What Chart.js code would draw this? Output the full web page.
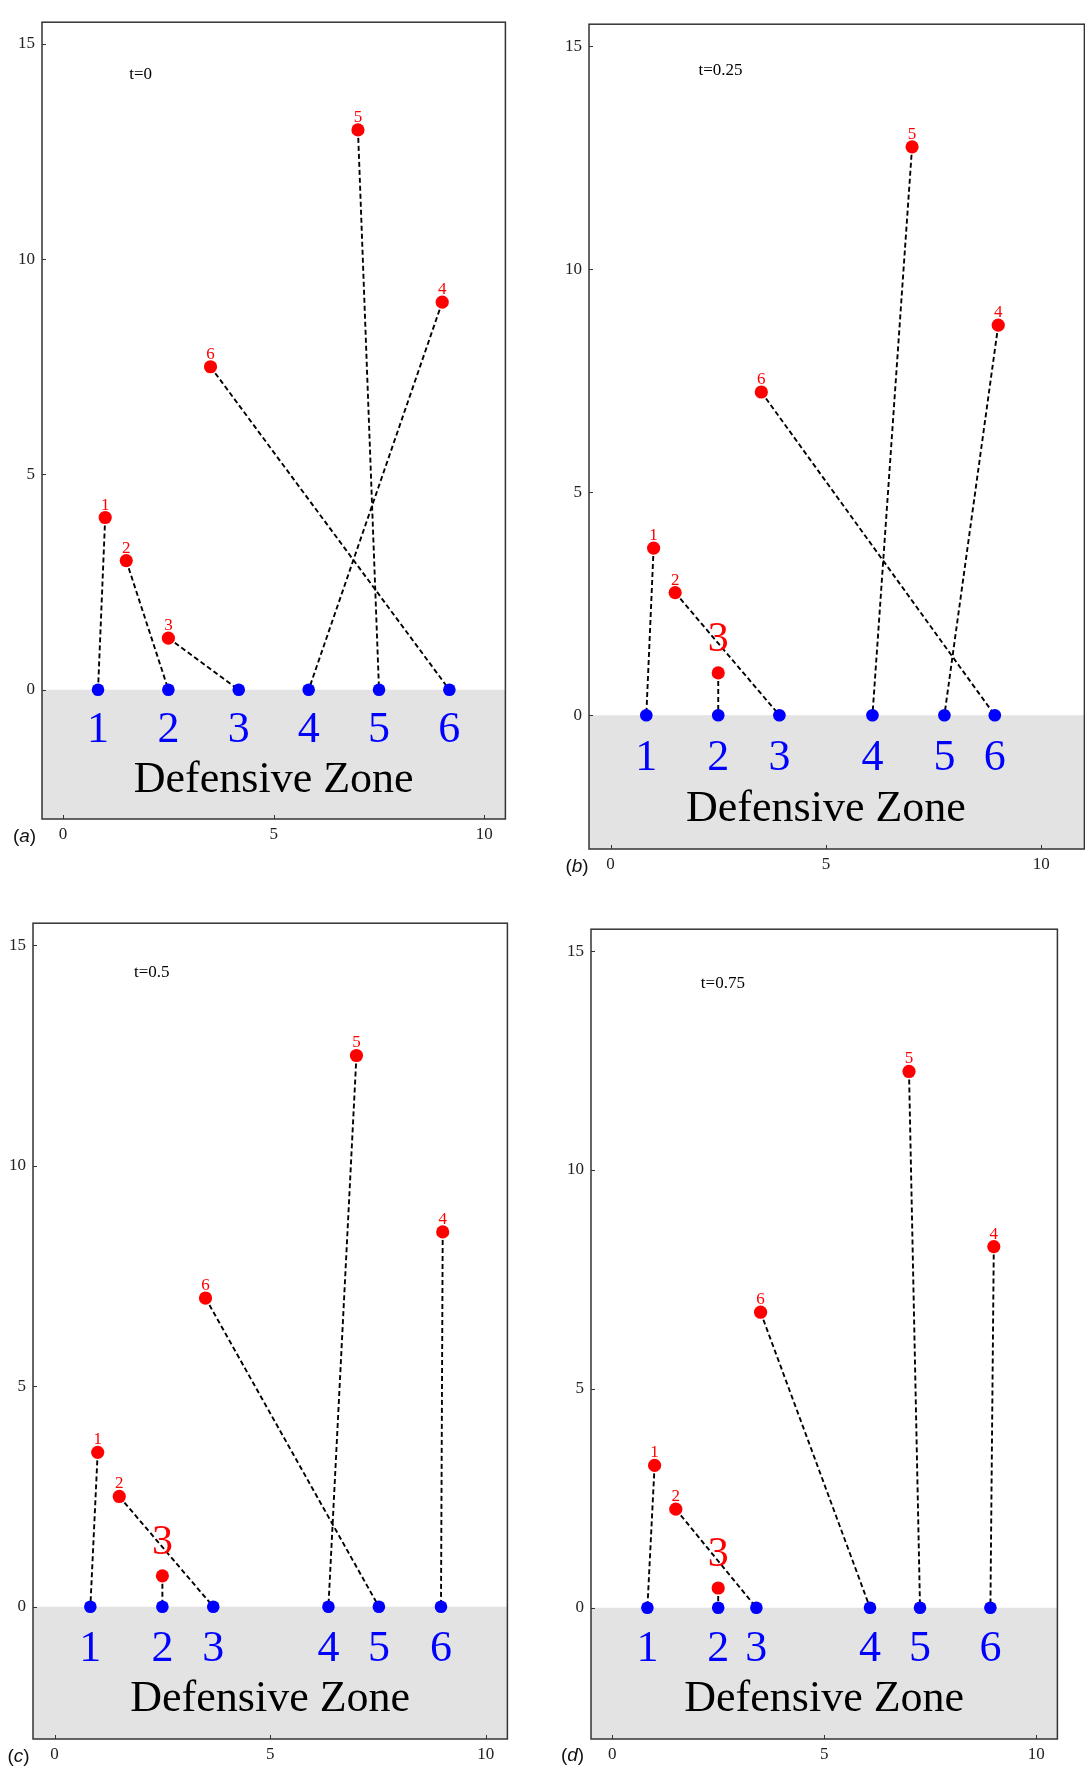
<!DOCTYPE html>
<html><head><meta charset="utf-8">
<script src="https://cdn.jsdelivr.net/npm/chart.js@4.4.0/dist/chart.umd.min.js"></script>
<style>
html,body{margin:0;padding:0;background:#fff;overflow:hidden;width:1085px;height:1768px;position:relative;}
.panel{position:absolute;}
.tag{position:absolute;font-family:'Liberation Sans',Arial,sans-serif;font-size:19px;color:#111;line-height:1;transform:translate(-50%,-50%);white-space:nowrap;}
</style></head><body>
<script>
// ---------- data ----------
const panelTags = ['(a)', '(b)', '(c)', '(d)'];
const timeLabels = ['t=0', 't=0.25', 't=0.5', 't=0.75'];
const zoneLabel = 'Defensive Zone';
const playerNumbers = ['1', '2', '3', '4', '5', '6'];
const xTicks = [0, 5, 10];
const yTicks = [0, 5, 10, 15];

const defendersX_a = [0.83, 2.5, 4.17, 5.83, 7.5, 9.17];
const attackersX_a = [1.0, 1.5, 2.5, 9.0, 7.0, 3.5];
const attackersY_a = [4.0, 3.0, 1.2, 9.0, 13.0, 7.5];
const assign_a = [1, 2, 3, 4, 5, 6];

const defendersX_b = [0.83, 2.5, 3.92, 6.08, 7.75, 8.92];
const attackersX_b = [1.0, 1.5, 2.5, 9.0, 7.0, 3.5];
const attackersY_b = [3.75, 2.75, 0.95, 8.75, 12.75, 7.25];
const assign_b = [1, 3, 2, 5, 4, 6];

const defendersX_c = [0.83, 2.5, 3.68, 6.35, 7.52, 8.96];
const attackersX_c = [1.0, 1.5, 2.5, 9.0, 7.0, 3.5];
const attackersY_c = [3.5, 2.5, 0.7, 8.5, 12.5, 7.0];
const assign_c = [1, 3, 2, 6, 4, 5];

const defendersX_d = [0.83, 2.5, 3.4, 6.08, 7.26, 8.92];
const attackersX_d = [1.0, 1.5, 2.5, 9.0, 7.0, 3.5];
const attackersY_d = [3.25, 2.25, 0.45, 8.25, 12.25, 6.75];
const assign_d = [1, 3, 2, 6, 5, 4];

const highlightAttacker = [0, 3, 3, 3]; // attacker whose label is drawn large (0 = none)

// ---------- layout / style ----------
const panels = [
  {def: defendersX_a, ax: attackersX_a, ay: attackersY_a, asg: assign_a},
  {def: defendersX_b, ax: attackersX_b, ay: attackersY_b, asg: assign_b},
  {def: defendersX_c, ax: attackersX_c, ay: attackersY_c, asg: assign_c},
  {def: defendersX_d, ax: attackersX_d, ay: attackersY_d, asg: assign_d}
];
const boxes = [
  {l: 42, t: 9, r: 508, b: 819, xMax: 10.5, timeX: 1.57, timeY: 14.18},
  {l: 589, t: 11, r: 1087, b: 849, xMax: 11.0, timeX: 2.04, timeY: 14.37},
  {l: 33, t: 910, r: 510, b: 1739, xMax: 10.5, timeX: 1.84, timeY: 14.28},
  {l: 591, t: 916, r: 1060, b: 1739, xMax: 10.5, timeX: 2.09, timeY: 14.16}
];
const tagPos = [[24.5, 835], [577, 865], [18.5, 1755], [572.5, 1754]];
const YW = 45, XH = 32, TP = 4, RP = 4;
const SERIF = "'Liberation Serif','Times New Roman',serif";
const RED = '#ff0000', BLUE = '#0000ff', ZONE = '#e3e3e3', FRAME = '#333333';

const annotPlugin = {
  id: 'annot',
  afterDatasetsDraw(chart, args, opts) {
    const ctx = chart.ctx, xs = chart.scales.x, ys = chart.scales.y, ca = chart.chartArea;
    const p = opts.panel, bx = opts.box, hl = opts.hl;
    ctx.save();
    // frame
    ctx.strokeStyle = FRAME; ctx.lineWidth = 1.5;
    ctx.strokeRect(ca.left, ca.top, ca.right - ca.left, ca.bottom - ca.top);
    // inward ticks
    ctx.lineWidth = 1;
    xTicks.forEach(v => { const px = Math.round(xs.getPixelForValue(v)) + 0.5;
      ctx.beginPath(); ctx.moveTo(px, ca.bottom); ctx.lineTo(px, ca.bottom - 4); ctx.stroke(); });
    yTicks.forEach(v => { const py = Math.round(ys.getPixelForValue(v)) + 0.5;
      ctx.beginPath(); ctx.moveTo(ca.left, py); ctx.lineTo(ca.left + 4, py); ctx.stroke(); });
    ctx.textAlign = 'center'; ctx.textBaseline = 'alphabetic';
    // defender labels
    ctx.fillStyle = BLUE; ctx.font = '44px ' + SERIF;
    p.def.forEach((dx, i) => ctx.fillText(playerNumbers[i], xs.getPixelForValue(dx), ys.getPixelForValue(-1.22)));
    // attacker labels
    ctx.fillStyle = RED;
    p.ax.forEach((axv, i) => {
      const px = xs.getPixelForValue(axv), py = ys.getPixelForValue(p.ay[i]);
      if (hl === i + 1) { ctx.font = '42px ' + SERIF; ctx.fillText(playerNumbers[i], px, py - 22); }
      else { ctx.font = '17px ' + SERIF; ctx.fillText(playerNumbers[i], px, py - 8); }
    });
    // zone label
    ctx.fillStyle = '#000'; ctx.font = '44px ' + SERIF;
    ctx.fillText(zoneLabel, xs.getPixelForValue(5), ys.getPixelForValue(-2.37));
    // time label
    ctx.textAlign = 'left'; ctx.font = '17px ' + SERIF;
    ctx.fillText(opts.time, xs.getPixelForValue(bx.timeX), ys.getPixelForValue(bx.timeY));
    ctx.restore();
  }
};

panels.forEach((p, k) => {
  const bx = boxes[k];
  const w = (bx.r - bx.l) + YW + RP, h = (bx.b - bx.t) + TP + XH;
  const div = document.createElement('div');
  div.className = 'panel';
  div.style.left = (bx.l - YW) + 'px'; div.style.top = (bx.t - TP) + 'px';
  div.style.width = w + 'px'; div.style.height = h + 'px';
  const cv = document.createElement('canvas');
  cv.width = w; cv.height = h; cv.style.width = w + 'px'; cv.style.height = h + 'px';
  div.appendChild(cv); document.body.appendChild(div);

  const tag = document.createElement('div');
  tag.className = 'tag';
  tag.innerHTML = panelTags[k].replace(/\((\w)\)/, '(<i>$1</i>)');
  tag.style.left = tagPos[k][0] + 'px'; tag.style.top = tagPos[k][1] + 'px';
  document.body.appendChild(tag);

  const datasets = [];
  datasets.push({type: 'line', data: [{x: -0.5, y: 0}, {x: bx.xMax, y: 0}], fill: 'start',
    backgroundColor: ZONE, borderWidth: 0, borderColor: 'rgba(0,0,0,0)', pointRadius: 0, showLine: true, order: 10});
  p.ax.forEach((axv, i) => {
    datasets.push({type: 'line', data: [{x: axv, y: p.ay[i]}, {x: p.def[p.asg[i] - 1], y: 0}],
      borderColor: '#000', borderWidth: 1.9, borderDash: [5, 3], pointRadius: 0, fill: false, showLine: true, order: 5});
  });
  datasets.push({type: 'scatter', data: p.def.map(dx => ({x: dx, y: 0})), backgroundColor: BLUE,
    borderWidth: 0, pointRadius: 6.3, order: 2});
  datasets.push({type: 'scatter', data: p.ax.map((axv, i) => ({x: axv, y: p.ay[i]})), backgroundColor: RED,
    borderWidth: 0, pointRadius: 6.6, order: 1});

  new Chart(cv, {
    type: 'scatter',
    data: {datasets},
    plugins: [annotPlugin],
    options: {
      responsive: false, animation: false, devicePixelRatio: 1,
      layout: {padding: {top: TP, right: RP, left: 0, bottom: 0}},
      plugins: {legend: {display: false}, tooltip: {enabled: false},
        annot: {panel: p, box: bx, hl: highlightAttacker[k], time: timeLabels[k]}},
      scales: {
        x: {type: 'linear', min: -0.5, max: bx.xMax,
          afterFit(s) { s.height = XH; },
          afterBuildTicks(s) { s.ticks = xTicks.map(v => ({value: v})); },
          grid: {display: false, drawTicks: false}, border: {display: false},
          ticks: {padding: 5, autoSkip: false, maxRotation: 0, color: '#222', font: {family: SERIF, size: 17}}},
        y: {type: 'linear', min: -3, max: 15.5,
          afterFit(s) { s.width = YW; },
          afterBuildTicks(s) { s.ticks = yTicks.map(v => ({value: v})); },
          grid: {display: false, drawTicks: false}, border: {display: false},
          ticks: {padding: 7, autoSkip: false, color: '#222', font: {family: SERIF, size: 17}}}
      }
    }
  });
});
</script>
</body></html>
